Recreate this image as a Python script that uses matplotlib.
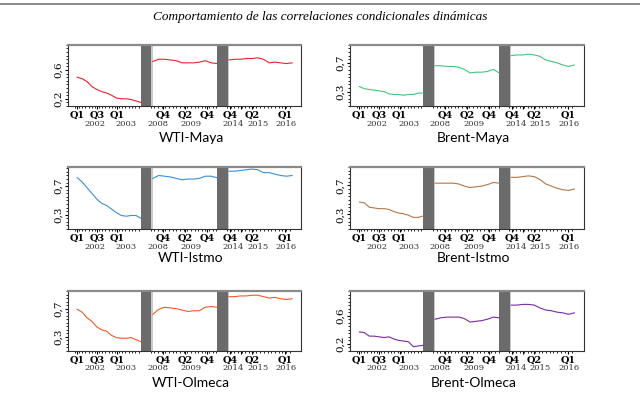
import numpy as np
import matplotlib.pyplot as plt
from matplotlib.lines import Line2D
from matplotlib.transforms import blended_transform_factory

# periodos (en años) de los tres tramos que muestra cada panel
SEGMENT_YEARS = [(2002.0, 2003.59), (2008.52, 2009.98), (2014.73, 2016.15)]

QUARTER_TICKS = [2002.0, 2002.5, 2003.0, 2008.75, 2009.25, 2009.75, 2014.75, 2015.25, 2016.0]
QUARTER_LABELS = ["Q1", "Q3", "Q1", "Q4", "Q2", "Q4", "Q4", "Q2", "Q1"]
YEAR_TICKS = [2002.44, 2003.23, 2008.63, 2009.40, 2014.83, 2015.39, 2016.02]
YEAR_LABELS = ["2002", "2003", "2008", "2009", "2014", "2015", "2016"]

# correlaciones condicionales (tramo 2002-03, 2008-09, 2014-16)
WTI_MAYA = [
    [0.50, 0.48, 0.44, 0.37, 0.33, 0.30, 0.28, 0.25, 0.21, 0.20, 0.20, 0.19, 0.17, 0.15],
    [0.72, 0.75, 0.75, 0.74, 0.73, 0.70, 0.70, 0.70, 0.71, 0.73, 0.70, 0.69],
    [0.74, 0.75, 0.75, 0.76, 0.76, 0.77, 0.75, 0.70, 0.71, 0.70, 0.69, 0.70],
]
BRENT_MAYA = [
    [0.37, 0.34, 0.33, 0.32, 0.31, 0.30, 0.27, 0.26, 0.26, 0.25, 0.26, 0.26, 0.28, 0.28],
    [0.66, 0.66, 0.65, 0.65, 0.64, 0.61, 0.56, 0.57, 0.57, 0.58, 0.61, 0.56],
    [0.80, 0.81, 0.81, 0.82, 0.81, 0.79, 0.74, 0.72, 0.70, 0.67, 0.65, 0.67],
]
WTI_ISTMO = [
    [0.82, 0.76, 0.68, 0.60, 0.52, 0.46, 0.43, 0.38, 0.33, 0.29, 0.28, 0.29, 0.29, 0.25],
    [0.81, 0.85, 0.84, 0.83, 0.81, 0.79, 0.80, 0.80, 0.81, 0.84, 0.84, 0.82],
    [0.91, 0.91, 0.92, 0.93, 0.94, 0.93, 0.89, 0.89, 0.87, 0.85, 0.84, 0.85],
]
BRENT_ISTMO = [
    [0.47, 0.46, 0.40, 0.39, 0.38, 0.38, 0.37, 0.34, 0.32, 0.31, 0.29, 0.26, 0.26, 0.28],
    [0.73, 0.73, 0.73, 0.73, 0.72, 0.69, 0.67, 0.68, 0.69, 0.71, 0.74, 0.73],
    [0.81, 0.81, 0.82, 0.83, 0.82, 0.78, 0.72, 0.69, 0.66, 0.64, 0.63, 0.65],
]
WTI_OLMECA = [
    [0.69, 0.65, 0.57, 0.52, 0.44, 0.40, 0.38, 0.32, 0.29, 0.28, 0.28, 0.29, 0.26, 0.23],
    [0.62, 0.69, 0.72, 0.71, 0.70, 0.68, 0.66, 0.67, 0.67, 0.72, 0.73, 0.72],
    [0.87, 0.87, 0.88, 0.88, 0.89, 0.89, 0.87, 0.85, 0.86, 0.84, 0.83, 0.84],
]
BRENT_OLMECA = [
    [0.37, 0.36, 0.31, 0.31, 0.30, 0.29, 0.30, 0.27, 0.25, 0.24, 0.23, 0.16, 0.17, 0.18],
    [0.55, 0.57, 0.58, 0.58, 0.58, 0.56, 0.51, 0.52, 0.53, 0.55, 0.58, 0.57],
    [0.75, 0.75, 0.76, 0.76, 0.75, 0.71, 0.68, 0.67, 0.65, 0.64, 0.62, 0.64],
]

PANELS = [
    ("WTI-Maya", WTI_MAYA, (0.111, 0.789), [0.2, 0.6], "#e8232d"),
    ("Brent-Maya", BRENT_MAYA, (0.218, 0.844), [0.3, 0.7], "#45c47f"),
    ("WTI-Istmo", WTI_ISTMO, (0.215, 0.967), [0.3, 0.7], "#3b8fd8"),
    ("Brent-Istmo", BRENT_ISTMO, (0.216, 0.868), [0.3, 0.7], "#b0784a"),
    ("WTI-Olmeca", WTI_OLMECA, (0.218, 0.924), [0.3, 0.7], "#f25a2c"),
    ("Brent-Olmeca", BRENT_OLMECA, (0.135, 0.784), [0.2, 0.6], "#7b2aa6"),
]

# layout: where each segment sits inside an axes (fraction of width)
SEG_SPANS = [(0.040, 0.313), (0.364, 0.638), (0.690, 0.960)]
GAPS = [(0.313, 0.364), (0.638, 0.690)]


def to_axis(t):
    t = np.asarray(t, dtype=float)
    out = np.full(t.shape, np.nan)
    for (y0, y1), (x0, x1) in zip(SEGMENT_YEARS, SEG_SPANS):
        m = (t >= y0 - 0.3) & (t <= y1 + 0.3)
        out[m] = x0 + (t[m] - y0) / (y1 - y0) * (x1 - x0)
    return out


def main():
    fig = plt.figure(figsize=(6.4, 3.97), dpi=100)
    fig.add_artist(Line2D([0, 1], [0.99, 0.99], color="#777777", lw=1.2))
    fig.text(0.5, 0.957, "Comportamiento de las correlaciones condicionales dinámicas",
             ha="center", va="center", style="italic", fontsize=9.5,
             family="Liberation Serif")

    lefts = [0.106, 0.547]
    rows = [(0.733, 0.154), (0.423, 0.156), (0.116, 0.151)]
    title_y = [138, 258, 383]

    for i, (name, segs, ylim, yticks, color) in enumerate(PANELS):
        r, c = divmod(i, 2)
        ax = fig.add_axes([lefts[c], rows[r][0], 0.365, rows[r][1]])
        for (y0, y1), vals in zip(SEGMENT_YEARS, segs):
            t = np.linspace(y0, y1, len(vals))
            ax.plot(to_axis(t), vals, color=color, lw=0.8)
        for g0, g1 in GAPS:
            ax.axvspan(g0, g1, color="#6b6b6b", lw=0)
            ax.axvspan(g1 - 0.006, g1, color="#c8c8c8", lw=0)
        ax.set_xlim(0, 1)
        ax.set_ylim(*ylim)

        ax.set_xticks(list(to_axis(QUARTER_TICKS)) + [to_axis([2015.0])[0]])
        ax.set_xticklabels(QUARTER_LABELS + [""], family="DejaVu Serif",
                           fontsize=7, fontweight="bold")
        months = np.concatenate([np.arange(y0 - 0.05, y1, 1 / 12)
                                 for y0, y1 in SEGMENT_YEARS])
        ax.set_xticks(to_axis(months), minor=True)
        ax.tick_params(axis="x", which="major", length=2.5, width=0.8, pad=1)
        ax.tick_params(axis="x", which="minor", length=1.5, width=0.6)

        ax.set_yticks(yticks)
        ax.set_yticklabels([f"{v:.1f}".replace(".", ",") for v in yticks],
                           family="DejaVu Serif", fontsize=7.5, rotation=90,
                           va="center")
        ax.set_yticks(np.arange(0.1, 1.0, 0.05), minor=True)
        ax.tick_params(axis="y", which="major", length=2.5, width=0.8, pad=1)
        ax.tick_params(axis="y", which="minor", length=1.5, width=0.6)

        for s in ax.spines.values():
            s.set_color("#333333")
            s.set_linewidth(0.8)
        ax.spines["top"].set_color("#8a8a8a")
        ax.spines["top"].set_linewidth(1.6)

        tr = blended_transform_factory(ax.transData, ax.transAxes)
        for yt, lab in zip(YEAR_TICKS, YEAR_LABELS):
            ax.text(to_axis([yt])[0], -0.29, lab, transform=tr, ha="center",
                    va="center", fontsize=6, family="DejaVu Serif",
                    color="#333333")

        fig.text(lefts[c] + 0.5 * 0.365 + 0.01, 1 - title_y[r] / 397, name,
                 ha="center", va="center", fontsize=10, family="Lato")

    fig.savefig("out.png", dpi=100)


if __name__ == "__main__":
    main()
